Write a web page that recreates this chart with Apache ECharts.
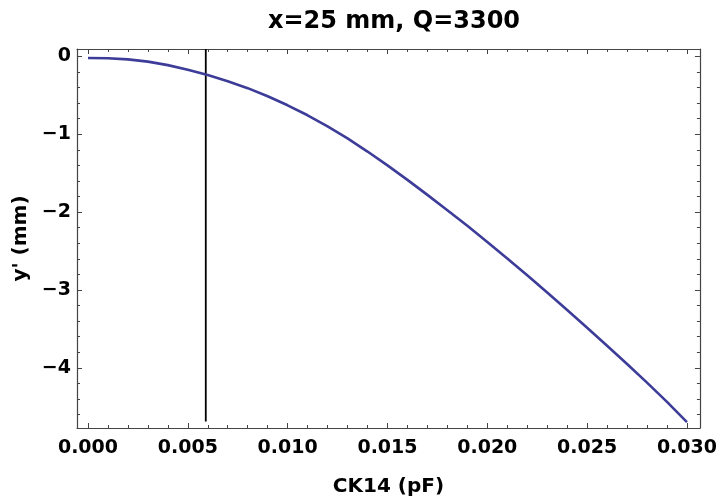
<!DOCTYPE html>
<html>
<head>
<meta charset="utf-8">
<script src="https://cdn.jsdelivr.net/npm/echarts@6/dist/echarts.min.js"></script>
<style>html,body{margin:0;padding:0;background:#fff}#c{width:720px;height:502px}</style>
</head>
<body>
<div id="c"></div>
<script>
// CK14 (pF) sample positions
var ck14 = [0.000,0.001,0.002,0.003,0.004,0.005,0.006,0.007,0.008,0.009,0.010,
            0.011,0.012,0.013,0.014,0.015,0.016,0.017,0.018,0.019,0.020,
            0.021,0.022,0.023,0.024,0.025,0.026,0.027,0.028,0.029,0.030];
// y' (mm)
var yPrime = [-0.02,-0.024,-0.038,-0.067,-0.112,-0.171,-0.238,-0.318,-0.408,-0.512,-0.628,
              -0.756,-0.898,-1.052,-1.222,-1.400,-1.586,-1.778,-1.975,-2.176,-2.383,
              -2.594,-2.811,-3.032,-3.256,-3.484,-3.716,-3.951,-4.189,-4.436,-4.696];
// vertical marker line
var markerX = 0.0059;
var markerY = [0.095, -4.69];
var titleText = "x=25 mm, Q=3300";
var xName = "CK14 (pF)";
var yName = "y' (mm)";

var xMin = -0.00055, xMax = 0.03065;
var yMin = -4.772, yMax = 0.095;

var fontFam = "DejaVu Sans";
var frameColor = "#444";

function xAx(pos, labels) {
  return {
    type: 'value', position: pos, min: xMin, max: xMax, splitNumber: 6,
    axisLine: {show: true, onZero: false, lineStyle: {color: frameColor, width: 1.2}},
    axisTick: {show: true, inside: true, length: 5, lineStyle: {color: frameColor}},
    minorTick: {show: true, splitNumber: 5, length: 3, lineStyle: {color: frameColor}},
    splitLine: {show: false},
    axisLabel: {show: labels, showMinLabel: false, showMaxLabel: false, margin: 11,
      color: '#000', fontFamily: fontFam, fontWeight: 'bold', fontSize: 19,
      formatter: function (v) { return v.toFixed(3); }},
    name: labels ? xName : '', nameLocation: 'middle', nameGap: 49,
    nameTextStyle: {color: '#000', fontFamily: fontFam, fontWeight: 'bold', fontSize: 20}
  };
}
function yAx(pos, labels) {
  return {
    type: 'value', position: pos, min: yMin, max: yMax, splitNumber: 5,
    axisLine: {show: true, onZero: false, lineStyle: {color: frameColor, width: 1.2}},
    axisTick: {show: true, inside: true, length: 5, lineStyle: {color: frameColor}},
    minorTick: {show: true, splitNumber: 5, length: 3, lineStyle: {color: frameColor}},
    splitLine: {show: false},
    axisLabel: {show: labels, showMinLabel: false, showMaxLabel: false, margin: 6,
      color: '#000', fontFamily: fontFam, fontWeight: 'bold', fontSize: 19,
      formatter: function (v) { return v < 0 ? '\u2212' + Math.abs(v) : String(v); }},
    name: labels ? yName : '', nameLocation: 'middle', nameGap: 35, nameRotate: 90,
    nameTextStyle: {color: '#000', fontFamily: fontFam, fontWeight: 'bold', fontSize: 20}
  };
}

var chart = echarts.init(document.getElementById('c'), null, {renderer: 'canvas'});
chart.setOption({
  animation: false,
  backgroundColor: '#fff',
  title: {text: titleText, left: 389, top: 5, textAlign: 'center',
    textStyle: {color: '#000', fontFamily: fontFam, fontWeight: 'bold', fontSize: 24}},
  grid: {left: 77, right: 19, top: 49, bottom: 69, containLabel: false},
  xAxis: [xAx('bottom', true), xAx('top', false)],
  yAxis: [yAx('left', true), yAx('right', false)],
  series: [
    {type: 'line', xAxisIndex: 0, yAxisIndex: 0, showSymbol: false, symbol: 'none',
     data: ck14.map(function (x, i) { return [x, yPrime[i]]; }),
     lineStyle: {color: '#3d3d99', width: 2.6}, smooth: false, z: 3},
    {type: 'line', xAxisIndex: 0, yAxisIndex: 0, showSymbol: false, symbol: 'none',
     data: markerY.map(function (y) { return [markerX, y]; }),
     lineStyle: {color: '#000', width: 1.8}, z: 2}
  ]
});
</script>
</body>
</html>
